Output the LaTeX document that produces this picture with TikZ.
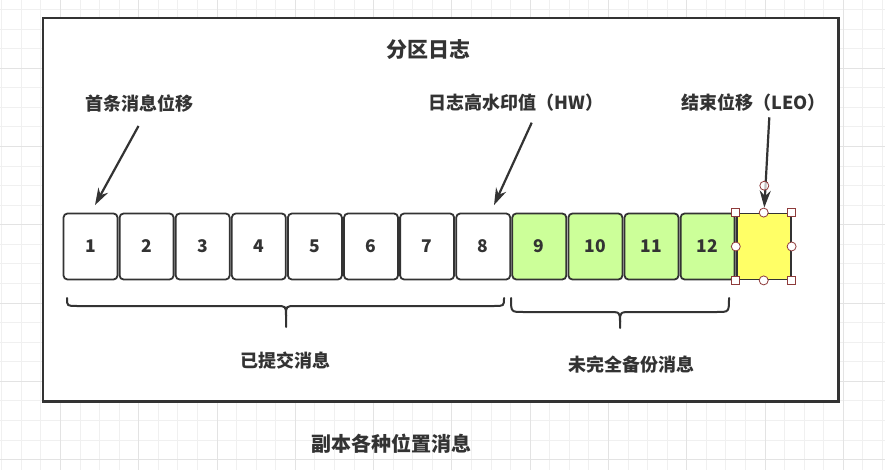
\documentclass[tikz,border=0pt]{standalone}
\usepackage{fontspec}
\setmainfont{Noto Sans CJK SC}
\usetikzlibrary{arrows.meta}
\definecolor{ink}{HTML}{333333}
\definecolor{gridminor}{HTML}{F0F0F0}
\definecolor{gridmajor}{HTML}{E3E3E3}
\definecolor{greencell}{HTML}{CCFF99}
\definecolor{yellowcell}{HTML}{FFFF66}
\definecolor{handlered}{HTML}{8E3B3B}
\newcommand{\fsz}[1]{\fontsize{#1}{#1}\selectfont\bfseries}

\begin{document}
\begin{tikzpicture}[x=1pt,y=-1pt,
  cellbox/.style={draw=ink,line width=1.8pt,rounded corners=4pt,minimum width=54pt,minimum height=66pt,inner sep=0pt,text=ink,font=\fsz{17.5}},
  msgtext/.style={text=ink,font=\fsz{18},inner sep=0pt},
  pointer/.style={draw=ink,line width=2.2pt,-{Stealth[length=17pt,width=11pt]}},
  bracket/.style={draw=ink,line width=2pt,line cap=round},
  grip/.style={draw=handlered,fill=white,line width=0.8pt,inner sep=0pt}]
\useasboundingbox (0,0) rectangle (885,470);
\fill[white] (0,0) rectangle (885,470);
% grid paper
\foreach \k in {0,...,45} \draw[gridminor,line width=0.8pt] ({1.7+19.57*\k},0) -- ({1.7+19.57*\k},470);
\foreach \k in {0,...,23} \draw[gridminor,line width=0.8pt] (0,{9.4+19.57*\k}) -- (885,{9.4+19.57*\k});
\foreach \k in {3,7,...,43} \draw[gridmajor,line width=0.8pt] ({1.7+19.57*\k},0) -- ({1.7+19.57*\k},470);
\foreach \k in {3,7,...,23} \draw[gridmajor,line width=0.8pt] (0,{9.4+19.57*\k}) -- (885,{9.4+19.57*\k});
\draw[ink,line width=2.2pt,fill=white] (43,18) rectangle (838.5,401.5);

\node[msgtext,font=\fsz{21}] (title) at (428,50) {分区日志};

% message cells
\foreach \i in {1,...,8} \node[cellbox,fill=white] (c\i) at ({90.5+56.1*(\i-1)},246.5) {\i};
\foreach \i in {9,...,12} \node[cellbox,fill=greencell] (c\i) at ({90.5+56.1*(\i-1)},246.5) {\i};
\node[cellbox,fill=yellowcell,rounded corners=0pt] (leo) at (763.7,246.5) {};

% pointers
\node[msgtext] (firstlbl) at (139.5,103.5) {首条消息位移};
\node[msgtext] (hwlbl) at (516,103) {日志高水印值（HW）};
\node[msgtext] (leolbl) at (753.7,103) {结束位移（LEO）};
\coordinate (firsttail) at (138.5,126);
\coordinate (hwtail) at (531.7,122.7);
\coordinate (leotail) at (769.3,117.3);
\draw[pointer] (firsttail) -- ([xshift=4.5pt,yshift=7.5pt]c1.north);
\draw[pointer] (hwtail) -- ([xshift=10.8pt,yshift=7.5pt]c8.north);
\draw[pointer] (leotail) -- ([xshift=0.6pt,yshift=5pt]leo.north);

% selection handles
\foreach \a/\n in {north west/nw,north east/ne,south west/sw,south east/se}
  \node[grip,minimum size=8pt] (h\n) at (leo.\a) {};
\foreach \a/\n in {north/n,south/s,east/e,west/w}
  \node[grip,circle,minimum size=9pt] (h\n) at (leo.\a) {};
\node[grip,circle,minimum size=9pt,fill opacity=0.7] (hrot) at (764.3,185.7) {};

% braces
\draw[bracket] (67,298) .. controls (67,306) .. (77,306) -- (276,306) .. controls (286,306) .. (286,316) -- (286,327);
\draw[bracket] (504,298) .. controls (504,306) .. (494,306) -- (296,306) .. controls (286,306) .. (286,316);
\draw[bracket] (511,298) .. controls (511,312) .. (523,312) -- (608,312) .. controls (620,312) .. (620,322) -- (620,328);
\draw[bracket] (729,298) .. controls (729,312) .. (717,312) -- (632,312) .. controls (620,312) .. (620,322);

\node[msgtext] (commitlbl) at (285.5,361) {已提交消息};
\node[msgtext] (pendinglbl) at (631.3,365) {未完全备份消息};
\node[msgtext,font=\fsz{20}] (caption) at (391.7,444) {副本各种位置消息};
\end{tikzpicture}
\end{document}
